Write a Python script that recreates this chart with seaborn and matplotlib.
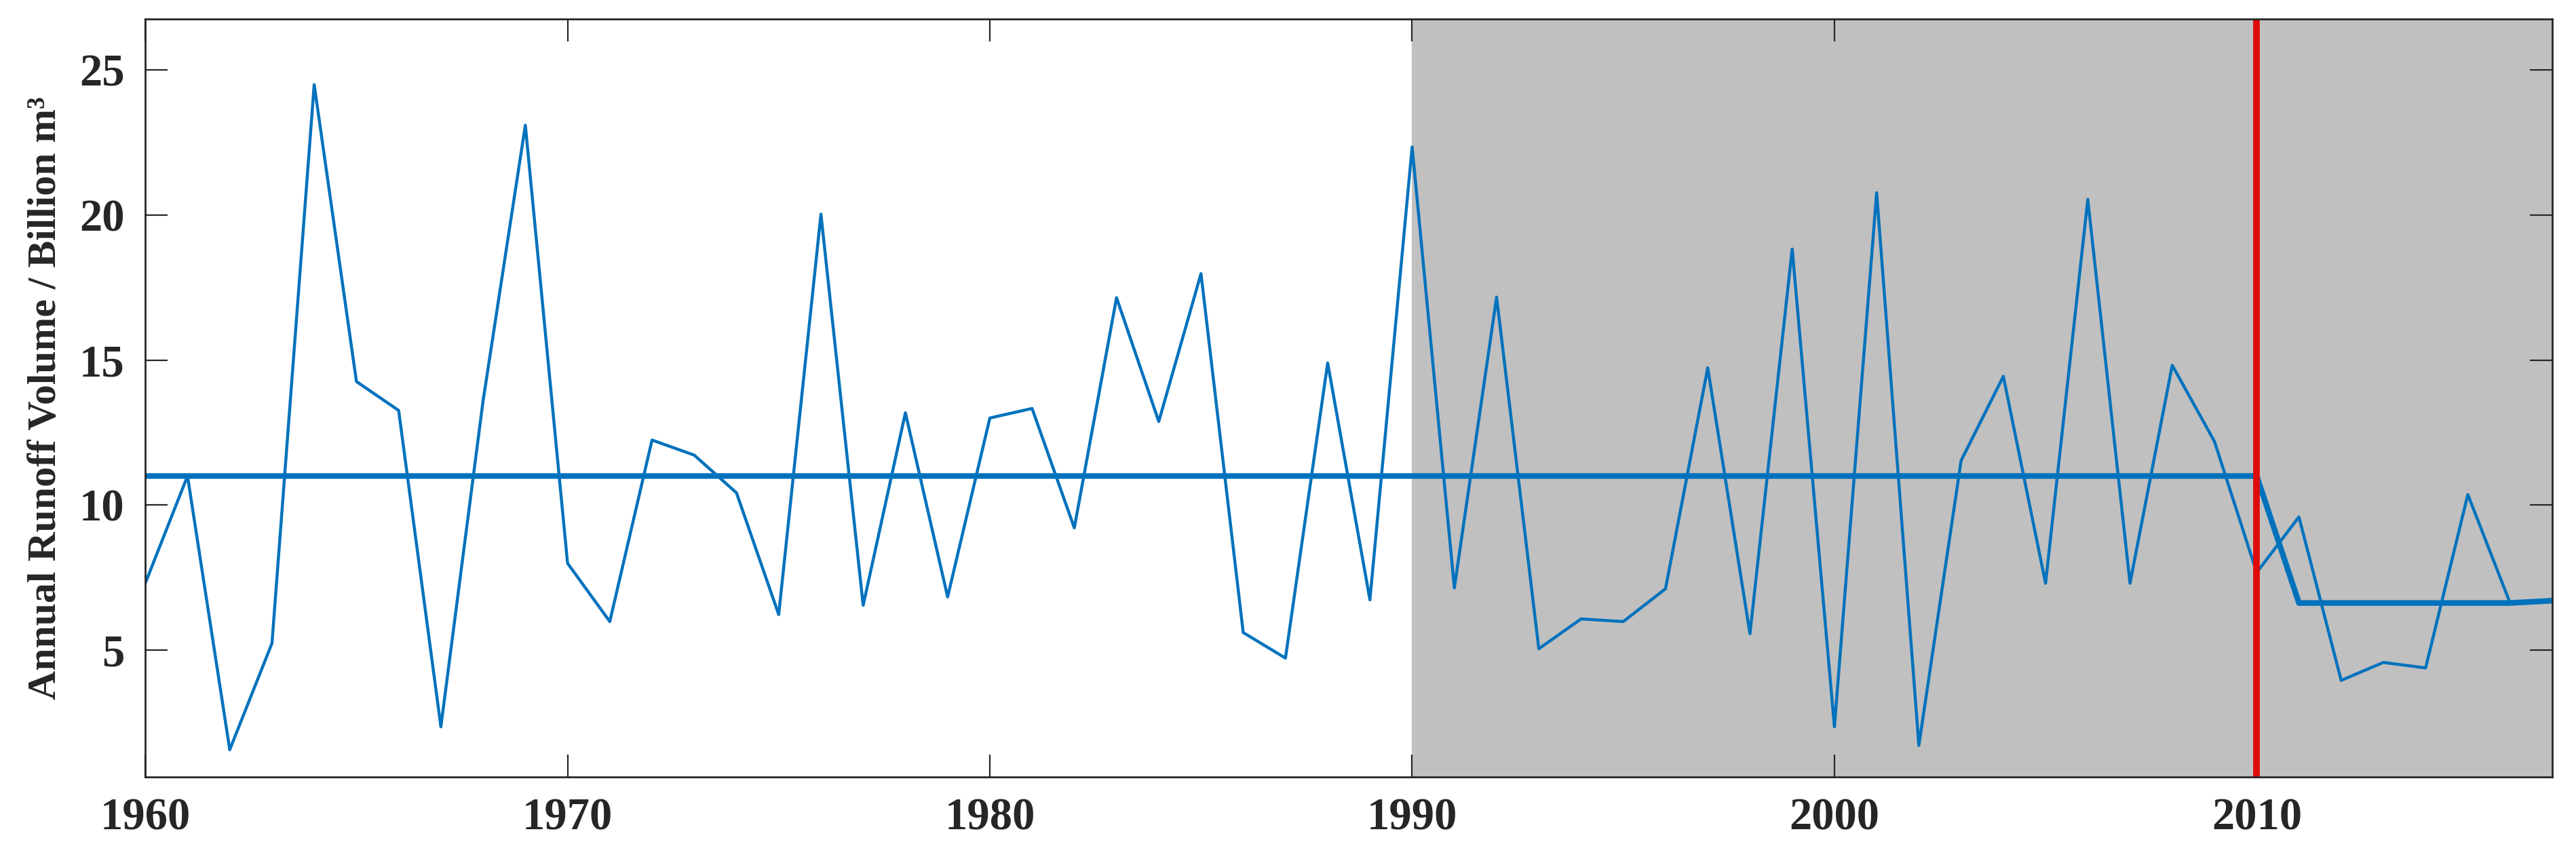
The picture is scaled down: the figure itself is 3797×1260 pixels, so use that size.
import pandas as pd
import matplotlib
matplotlib.use("Agg")
import matplotlib.pyplot as plt
import seaborn as sns

# Annual runoff series
years = list(range(1960, 2017))
runoff = [7.30, 11.0, 1.56, 5.23, 24.5, 14.26, 13.26, 2.35, 13.6, 23.1,
          7.99, 5.98, 12.24, 11.72, 10.42, 6.22, 20.03, 6.54, 13.18, 6.83,
          13.0, 13.33, 9.21, 17.15, 12.88, 17.98, 5.60, 4.72, 14.90, 6.73,
          22.35, 7.14, 17.17, 5.04, 6.07, 5.98, 7.11, 14.73, 5.56, 18.83,
          2.35, 20.77, 1.71, 11.53, 14.44, 7.30, 20.54, 7.30, 14.82, 12.19,
          7.67, 9.59, 3.95, 4.57, 4.38, 10.36, 6.62]

# Mean level before / after the change point
mean_years = list(range(1960, 2018))
mean_level = [11.0] * 51 + [6.62] * 6 + [6.70]

shade_start, shade_end = 1990, 2017
change_year = 2010

df = pd.DataFrame({"year": years, "runoff": runoff})
df_mean = pd.DataFrame({"year": mean_years, "level": mean_level})

sns.set_style("ticks")
plt.rcParams["font.family"] = ["Liberation Serif", "DejaVu Serif"]
plt.rcParams["font.weight"] = "bold"

fig = plt.figure(figsize=(37.97, 12.6), dpi=100)
ax = fig.add_axes([0.0564, 0.0913, 0.9344, 0.8867])

ax.axvspan(shade_start, shade_end, color="#C0C0C0", lw=0, zorder=0)
sns.lineplot(data=df, x="year", y="runoff", ax=ax, color="#0072BD", lw=3.2, zorder=3)
sns.lineplot(data=df_mean, x="year", y="level", ax=ax, color="#0072BD", lw=6, zorder=3)
ax.axvline(change_year, color="#E00A0A", lw=7, zorder=4)

ax.set_xlim(1960, 2017)
ax.set_ylim(0.62, 26.77)
ax.set_xticks([1960, 1970, 1980, 1990, 2000, 2010])
ax.set_yticks([5, 10, 15, 20, 25])
ax.set_xlabel("")
ax.set_ylabel("Annual Runoff Volume / Billion m³", fontsize=43, fontweight="bold", labelpad=16)

ax.tick_params(direction="in", length=24, width=1.6, colors="#262626",
               top=True, right=True, labelsize=48, pad=22)
for lbl in ax.get_xticklabels() + ax.get_yticklabels():
    lbl.set_fontweight("bold")
for s in ax.spines.values():
    s.set_linewidth(2)
    s.set_color("#262626")
    s.set_zorder(5)

fig.savefig("out.png", dpi=100)
